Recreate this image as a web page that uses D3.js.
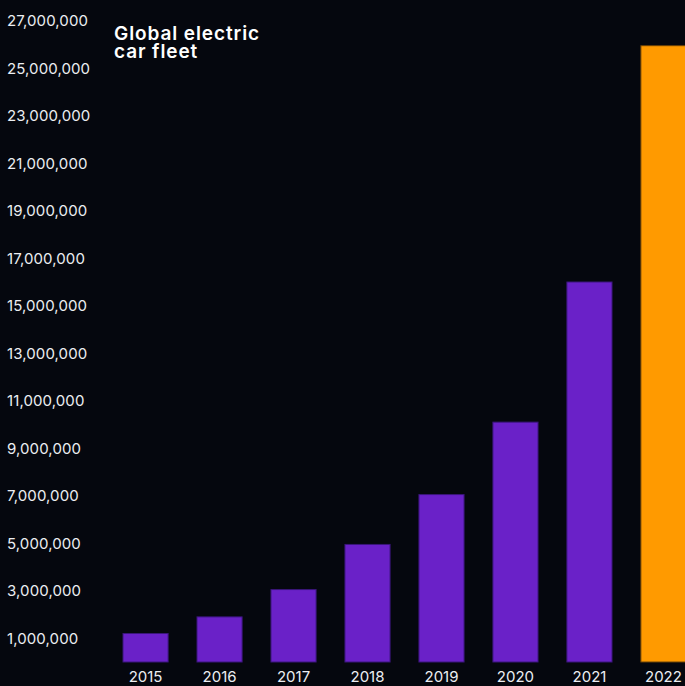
<!DOCTYPE html>
<meta charset="utf-8">
<script src="https://d3js.org/d3.v7.min.js"></script>
<style>
  body { margin: 0; background: #05070e; }
</style>
<div id="my_dataviz"></div>
<script>
  // data
  var years = ["2015", "2016", "2017", "2018", "2019", "2020", "2021", "2022"];
  var fleet = [1200000, 1900000, 3050000, 4950000, 7050000, 10100000, 16000000, 25950000];
  var yTicks = [1000000, 3000000, 5000000, 7000000, 9000000, 11000000, 13000000, 15000000,
    17000000, 19000000, 21000000, 23000000, 25000000, 27000000];
  var titleLines = ["Global electric", "car fleet"];

  var W = 685, H = 686;
  var fontFam = "Inter, 'Open Sans', sans-serif";

  var svg = d3.select("#my_dataviz")
    .append("svg")
    .attr("width", W)
    .attr("height", H);

  svg.append("rect")
    .attr("width", W).attr("height", H)
    .attr("fill", "#05070e");

  var x = d3.scaleBand()
    .domain(years)
    .range([123, 686])
    .paddingInner(0.39)
    .paddingOuter(0);

  var y = d3.scaleLinear()
    .domain([0, 27000000])
    .range([662, 20.75]);

  // y axis labels (no line, no ticks)
  var yAxis = svg.append("g")
    .attr("transform", "translate(7,0)")
    .call(d3.axisRight(y).tickValues(yTicks).tickSize(0).tickPadding(0)
      .tickFormat(d3.format(",")));
  yAxis.select(".domain").remove();
  yAxis.selectAll("text")
    .attr("fill", "#eceef2")
    .style("font-family", fontFam)
    .style("font-size", "15px")
    .style("letter-spacing", "0.1px");

  // bars
  svg.selectAll(".bar")
    .data(years)
    .enter()
    .append("rect")
    .attr("class", "bar")
    .attr("x", function(d) { return x(d); })
    .attr("y", function(d, i) { return y(fleet[i]); })
    .attr("width", x.bandwidth())
    .attr("height", function(d, i) { return y(0) - y(fleet[i]); })
    .attr("fill", function(d) { return d == "2022" ? "#ff9a00" : "#6a21c8"; })
    .attr("stroke", function(d) { return d == "2022" ? "#6b4206" : "#3a167a"; })
    .attr("stroke-width", 1);

  // x axis labels
  var xAxis = svg.append("g")
    .attr("transform", "translate(0,671)")
    .call(d3.axisBottom(x).tickSize(0).tickPadding(0));
  xAxis.select(".domain").remove();
  xAxis.selectAll("text")
    .attr("fill", "#eceef2")
    .style("font-family", fontFam)
    .style("font-size", "15px");

  // title, one text per line
  svg.selectAll(".title")
    .data(titleLines)
    .enter()
    .append("text")
    .attr("class", "title")
    .attr("x", 114)
    .attr("y", function(d, i) { return 40 + i * 18; })
    .attr("fill", "#ffffff")
    .style("font-family", fontFam)
    .style("font-weight", "600")
    .style("font-size", "19px")
    .style("letter-spacing", "0.9px")
    .text(function(d) { return d; });
</script>
